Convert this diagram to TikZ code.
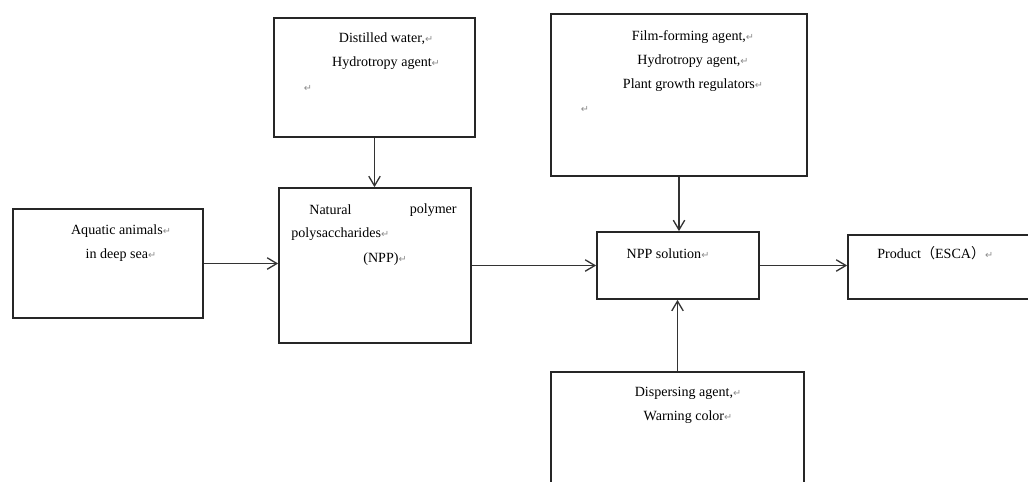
\documentclass[tikz,border=0pt]{standalone}
\usepackage{fontspec}
\setmainfont{Liberation Serif}
\newfontfamily\cjk{Noto Sans CJK SC}
\newfontfamily\markfont{DejaVu Sans}
\usetikzlibrary{arrows.meta}
\newcommand{\pmk}{{\markfont\fontsize{5.5}{5.5}\selectfont\textcolor{black!45}{↵}}}
\begin{document}
\begin{tikzpicture}[x=0.02cm, y=-0.02cm,
  box/.style={draw=black!85, line width=1pt, inner sep=0pt, fill=white},
  txt/.style={inner sep=0pt, align=center, font=\fontsize{8}{13.8}\selectfont},
  flow/.style={draw=black!80, line width=0.75pt, -{Straight Barb[length=5.5pt,width=6.5pt]}}]
\useasboundingbox (0,0) rectangle (1028,481);
\clip (0,0) rectangle (1028,481);
\node[box, minimum width=3.8cm, minimum height=2.18cm] (aquatic) at (108,263.5) {};
\node[box, minimum width=4.02cm, minimum height=2.38cm] (water) at (374.5,77.5) {};
\node[box, minimum width=3.84cm, minimum height=3.1cm] (npp) at (375,265.5) {};
\node[box, minimum width=5.12cm, minimum height=3.24cm] (film) at (679,95) {};
\node[box, minimum width=3.24cm, minimum height=1.34cm] (sol) at (678,265.5) {};
\node[box, minimum width=4.4cm, minimum height=1.28cm] (product) at (958,267) {};
\node[box, minimum width=5.06cm, minimum height=3.36cm] (disp) at (677.5,456) {};
\node[txt] (aquatictext) at (121,243) {Aquatic animals\pmk\\in deep sea\pmk};
\node[txt] (watertext) at (386,51) {Distilled water,\pmk\\Hydrotropy agent\pmk};
\node[txt] (watermark) at (308,88) {\pmk};
\node[txt, anchor=west] (npptext1) at (309,210) {Natural};
\node[txt, anchor=east] (npptext2) at (457,210) {polymer};
\node[txt, anchor=west] (npptext3) at (291,234) {polysaccharides\pmk};
\node[txt] (npptext4) at (385,259) {(NPP)\pmk};
\node[txt] (filmtext) at (693,61) {Film-forming agent,\pmk\\Hydrotropy agent,\pmk\\Plant growth regulators\pmk};
\node[txt] (filmmark) at (585,109) {\pmk};
\node[txt] (soltext) at (668,254) {NPP solution\pmk};
\node[txt, anchor=west] (producttext) at (877,253) {Product{\cjk （}ESCA{\cjk ）}\pmk};
\node[txt] (disptext) at (688,405) {Dispersing agent,\pmk\\Warning color\pmk};
\draw[flow] (water.south) -- (water.south |- npp.north);
\draw[flow] (film.south) -- (film.south |- sol.north);
\draw[flow] (disp.north) -- (disp.north |- sol.south);
\draw[flow] (aquatic.east) -- (aquatic.east -| npp.west);
\draw[flow] (npp.east) -- (npp.east -| sol.west);
\draw[flow] (sol.east) -- (sol.east -| product.west);
\end{tikzpicture}
\end{document}
